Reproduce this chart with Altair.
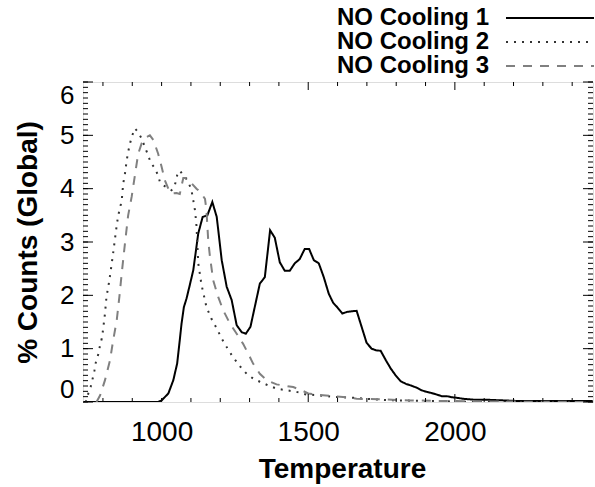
import altair as alt
import pandas as pd

FONT = "Liberation Sans"

series = ["NO Cooling 1", "NO Cooling 2", "NO Cooling 3"]
colors = ["#000000", "#333333", "#808080"]
dashes = [[1, 0], [2, 6], [9, 8]]

temp1 = [735, 988, 1000, 1023, 1040, 1053, 1062, 1068, 1076, 1085, 1096, 1108, 1125, 1140, 1156, 1173, 1188,
         1205, 1222, 1239, 1256, 1273, 1287, 1303, 1320, 1335, 1352, 1370, 1386, 1403, 1420, 1437, 1454, 1471,
         1488, 1503, 1519, 1536, 1553, 1570, 1585, 1600, 1616, 1633, 1648, 1665, 1682, 1699, 1716, 1731, 1747,
         1765, 1781, 1798, 1815, 1833, 1850, 1869, 1886, 1904, 1920, 1938, 1955, 1972, 1989, 2006, 2028, 2051,
         2074, 2119, 2165, 2210, 2330, 2470]
count1 = [0, 0, 0.03, 0.16, 0.41, 0.72, 1.16, 1.47, 1.78, 1.94, 2.19, 2.47, 3.16, 3.47, 3.5, 3.75, 3.47,
          2.66, 2.16, 1.91, 1.44, 1.31, 1.28, 1.41, 1.84, 2.22, 2.34, 3.22, 3.08, 2.62, 2.46, 2.46, 2.6, 2.68,
          2.87, 2.87, 2.66, 2.6, 2.34, 2.03, 1.86, 1.77, 1.66, 1.69, 1.70, 1.71, 1.41, 1.11, 1.0, 0.97, 0.96,
          0.78, 0.63, 0.5, 0.39, 0.34, 0.31, 0.27, 0.22, 0.19, 0.17, 0.14, 0.11, 0.11, 0.09, 0.08, 0.06, 0.05,
          0.04, 0.04, 0.03, 0.02, 0.02, 0.02]

temp2 = [740, 745, 750, 758, 765, 771, 776, 785, 790, 796, 800, 807, 812, 821, 829, 835, 841, 847, 852, 858,
         864, 869, 875, 881, 886, 892, 898, 909, 920, 932, 943, 954, 962, 977, 988, 994, 1006, 1019, 1034, 1045,
         1053, 1062, 1074, 1082, 1091, 1102, 1108, 1114, 1119, 1125, 1136, 1153, 1170, 1188, 1205, 1222, 1239,
         1256, 1273, 1290, 1312, 1335, 1364, 1392, 1426, 1460, 1494, 1528, 1563, 1608, 1653, 1700, 1750, 1800,
         1900, 2000, 2100, 2470]
count2 = [0.0, 0.03, 0.16, 0.28, 0.44, 0.59, 0.75, 0.91, 1.06, 1.19, 1.34, 1.66, 1.97, 2.25, 2.56, 2.8, 3.06,
          3.31, 3.5, 3.63, 3.78, 4.09, 4.28, 4.53, 4.69, 4.84, 4.97, 5.13, 5.06, 4.94, 4.78, 4.63, 4.5, 4.38,
          4.25, 4.13, 4.06, 4.02, 3.97, 4.06, 4.25, 4.34, 4.25, 4.2, 4.13, 3.97, 3.78, 3.59, 3.3, 2.6, 2.2, 1.78,
          1.56, 1.38, 1.19, 1.03, 0.88, 0.75, 0.63, 0.53, 0.44, 0.38, 0.31, 0.25, 0.22, 0.19, 0.14, 0.13, 0.11,
          0.09, 0.08, 0.06, 0.04, 0.03, 0.02, 0.01, 0.0, 0.0]

temp3 = [778, 790, 796, 807, 824, 835, 847, 856, 864, 875, 886, 898, 909, 920, 932, 949, 960, 972, 988, 1000,
         1011, 1023, 1034, 1051, 1062, 1074, 1085, 1102, 1119, 1131, 1148, 1153, 1159, 1165, 1176, 1193, 1210,
         1233, 1256, 1278, 1295, 1312, 1335, 1358, 1392, 1415, 1449, 1477, 1500, 1540, 1585, 1631, 1665, 1750,
         1850, 1950, 2100, 2470]
count3 = [0.0, 0.12, 0.22, 0.41, 0.78, 1.16, 1.53, 1.97, 2.41, 2.97, 3.5, 3.85, 4.25, 4.65, 4.85, 4.97, 5.0,
          4.91, 4.66, 4.41, 4.16, 4.0, 3.91, 3.92, 3.9, 4.2, 4.2, 4.1, 4.0, 3.94, 3.81, 3.59, 3.03, 2.72, 2.28,
          1.97, 1.72, 1.47, 1.28, 1.09, 0.91, 0.72, 0.53, 0.41, 0.33, 0.31, 0.28, 0.22, 0.16, 0.13, 0.11, 0.09,
          0.06, 0.05, 0.03, 0.02, 0.01, 0.0]

x_labels = [1000, 1500, 2000]
x_major = [1500, 2000]
x_minor = [800, 900, 1000, 1100, 1200, 1300, 1400, 1600, 1700, 1800, 1900, 2100, 2200, 2300, 2400]
y_labels = [0, 1, 2, 3, 4, 5, 6]
y_minor = [i / 10 for i in range(61)]

frames = []
for name, t, c in zip(series, [temp1, temp2, temp3], [count1, count2, count3]):
    frames.append(pd.DataFrame({"T": t, "v": c, "series": name}))
df = pd.concat(frames, ignore_index=True)

W, H = 510, 320
xs = alt.Scale(domain=[732, 2471], nice=False, zero=False)
ys = alt.Scale(domain=[0, 6], nice=False, zero=False)

legend = alt.Legend(
    title=None, orient="none", legendX=455, legendY=-76, direction="vertical",
    symbolType="M-4.4,0H4.4", symbolSize=400, symbolStrokeWidth=2,
    labelAlign="right", labelOffset={"expr": "-73"}, labelFontSize=24, labelFont=FONT,
    labelFontWeight="bold", labelColor="black", labelLimit=400, rowPadding=0,
    padding=0, symbolOffset=0,
)

lines = alt.Chart(df).mark_line(strokeWidth=2, clip=True).encode(
    x=alt.X("T:Q", scale=xs, axis=alt.Axis(
        orient="bottom", values=x_labels, format="d", ticks=False, tickSize=0, domain=False, grid=False,
        labelPadding=16, labelFontSize=28, labelFlush=False,
        title="Temperature", titleFontSize=28, titleX=259, titleY=75,
        titleBaseline="alphabetic", titleAlign="center")),
    y=alt.Y("v:Q", scale=ys, axis=alt.Axis(
        orient="left", values=y_labels, ticks=False, tickSize=0, domain=False, grid=False,
        labelPadding=9, labelFontSize=26, labelFlush=True,
        title="% Counts (Global)", titleFontSize=28, titleX=-47, titleY=160, titleAngle=270,
        titleBaseline="alphabetic", titleAlign="center")),
    color=alt.Color("series:N", scale=alt.Scale(domain=series, range=colors), legend=legend),
    strokeDash=alt.StrokeDash("series:N", scale=alt.Scale(domain=series, range=dashes), legend=legend),
)


def xticks(values, y0, y1):
    return alt.Chart(pd.DataFrame({"T": values})).mark_rule(color="black", strokeWidth=1).encode(
        x=alt.X("T:Q", scale=xs, axis=None), y=alt.value(y0), y2=alt.value(y1))


def yticks(values, x0, x1):
    return alt.Chart(pd.DataFrame({"v": values})).mark_rule(color="black", strokeWidth=1).encode(
        y=alt.Y("v:Q", scale=ys, axis=None), x=alt.value(x0), x2=alt.value(x1))


layers = [
    lines,
    xticks(x_major, H, H - 8), xticks(x_minor, H, H - 4),
    xticks(x_major, 0, 8), xticks(x_minor, 0, 4),
    yticks(y_labels, 0, 10), yticks(y_minor, 0, 5),
    yticks(y_labels, W, W - 10), yticks(y_minor, W, W - 5),
]

chart = alt.layer(*layers).resolve_axis(x="independent", y="independent").properties(
    width=W, height=H,
    autosize=alt.AutoSizeParams(type="none"),
    padding={"left": 83, "top": 82, "right": 2, "bottom": 85},
).configure_view(stroke="black", strokeWidth=1).configure_axis(
    labelFont=FONT, titleFont=FONT, labelFontWeight="bold", titleFontWeight="bold",
    labelColor="black", titleColor="black",
).configure(background="white")

chart.save("out.html", embed_options={"renderer": "svg", "actions": False})
